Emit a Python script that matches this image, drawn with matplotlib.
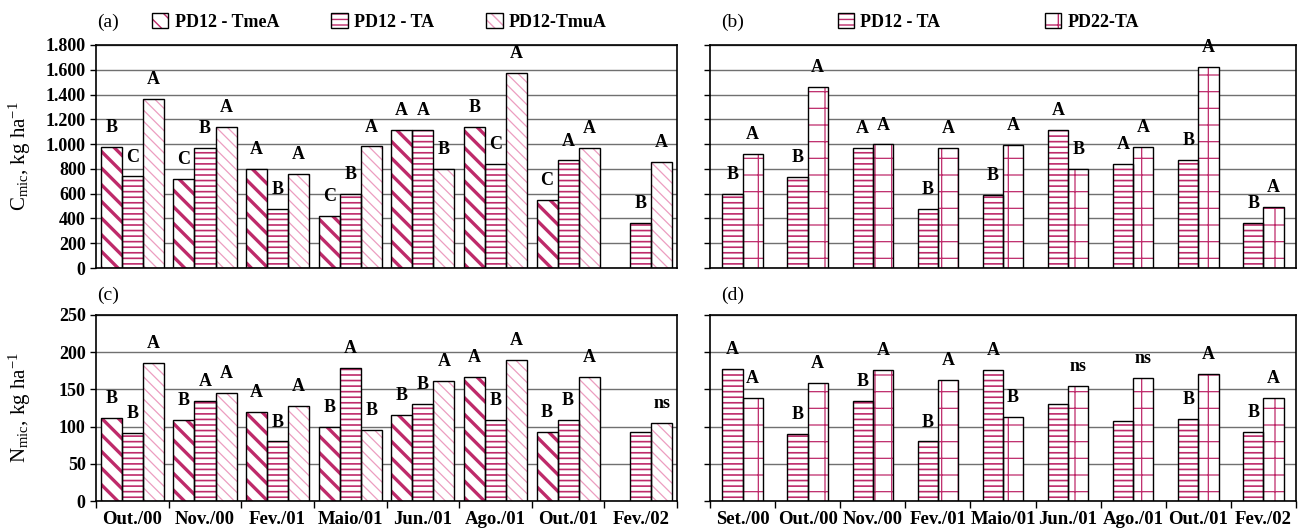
import numpy as np
import matplotlib
matplotlib.use("Agg")
import matplotlib.pyplot as plt
import matplotlib.patches as mpatches
from matplotlib.ticker import FuncFormatter, FixedLocator

plt.rcParams['font.family'] = 'Liberation Serif'
plt.rcParams['mathtext.fontset'] = 'custom'
plt.rcParams['mathtext.rm'] = 'Liberation Serif'
plt.rcParams['mathtext.it'] = 'Liberation Serif:italic'

# ---- data ----
dates_ac = ['Out./00', 'Nov./00', 'Fev./01', 'Maio/01', 'Jun./01', 'Ago./01', 'Out./01', 'Fev./02']
dates_bd = ['Set./00', 'Out./00', 'Nov./00', 'Fev./01', 'Maio/01', 'Jun./01', 'Ago./01', 'Out./01', 'Fev./02']

# (a) C mic, kg/ha
cmic_tmea = [980, 717, 797, 423, 1115, 1136, 551, np.nan]
cmic_ta = [739, 967, 476, 595, 1115, 837, 868, 367]
cmic_tmua = [1368, 1136, 757, 981, 797, 1572, 967, 853]
let_cmic_tmea = ['B', 'C', 'A', 'C', 'A', 'B', 'C', '']
let_cmic_ta = ['C', 'B', 'B', 'B', 'A', 'C', 'A', 'B']
let_cmic_tmua = ['A', 'A', 'A', 'A', 'B', 'A', 'A', 'A']

# (b) C mic, PD12-TA vs PD22-TA
cmic_pd12 = [597, 737, 970, 474, 589, 1117, 836, 871, 367]
cmic_pd22 = [919, 1460, 997, 970, 991, 798, 978, 1626, 490]
let_cmic_pd12 = ['B', 'B', 'A', 'B', 'B', 'A', 'A', 'B', 'B']
let_cmic_pd22 = ['A', 'A', 'A', 'A', 'A', 'B', 'A', 'A', 'A']

# (c) N mic, kg/ha
nmic_tmea = [111, 109, 120, 100, 116, 167, 93, np.nan]
nmic_ta = [91, 134, 80, 179, 131, 109, 109, 93]
nmic_tmua = [185, 145, 128, 95, 161, 190, 167, 105]
let_nmic_tmea = ['B', 'B', 'A', 'B', 'B', 'A', 'B', '']
let_nmic_ta = ['B', 'A', 'B', 'A', 'B', 'B', 'B', '']
let_nmic_tmua = ['A', 'A', 'A', 'B', 'A', 'A', 'A', 'ns']

# (d) N mic, PD12-TA vs PD22-TA
nmic_pd12 = [178, 90, 134, 80, 176, 130, 108, 110, 93]
nmic_pd22 = [139, 159, 176, 163, 113, 154, 165, 171, 138]
let_nmic_pd12 = ['A', 'B', 'B', 'B', 'A', '', '', 'B', 'B']
let_nmic_pd22 = ['A', 'A', 'A', 'A', 'B', 'ns', 'ns', 'A', 'A']

MAG = '#BE2A6A'
PINK = '#EC9DC0'
# series style: (hatch, hatch colour, hatch linewidth)
STY_TMEA = ('\\\\', MAG, 2.4)
STY_TA = ('---', MAG, 1.2)
STY_TMUA = ('\\\\\\', PINK, 0.9)
STY_PD22 = ('+', MAG, 0.9)


def hatched_bars(ax, x, h, w, sty, letters):
    hatch, hc, hlw = sty
    with plt.rc_context({'hatch.linewidth': hlw}):
        ax.bar(x, h, w, color='white', edgecolor=hc, hatch=hatch, linewidth=0, zorder=2)
    ax.bar(x, h, w, fill=False, edgecolor='black', linewidth=1, zorder=3)
    for xi, hi, lt in zip(x, h, letters):
        if lt and not np.isnan(hi):
            ax.annotate(lt, (xi, hi), xytext=(0, 14), textcoords='offset points',
                        ha='center', va='center', fontsize=13, fontweight='bold', zorder=4)


def legend_handle(sty):
    hatch, hc, hlw = sty
    with plt.rc_context({'hatch.linewidth': hlw}):
        p1 = mpatches.Patch(facecolor='white', edgecolor=hc, hatch=hatch, linewidth=0)
    p2 = mpatches.Patch(facecolor='none', edgecolor='black', linewidth=1)
    return (p1, p2)


def style_axis(ax, ncat, ymax, ystep, yfmt, showy, cats=None):
    ax.set_xlim(-0.5, ncat - 0.5)
    ax.set_ylim(0, ymax)
    ax.set_yticks(np.arange(0, ymax + 1, ystep))
    ax.yaxis.set_major_formatter(FuncFormatter(yfmt))
    ax.grid(axis='y', color='#707070', linewidth=1)
    ax.set_axisbelow(True)
    for s in ax.spines.values():
        s.set_linewidth(1.2)
    ax.tick_params(axis='y', direction='out', length=4, width=1, labelsize=13,
                   labelleft=showy)
    for lab in ax.get_yticklabels():
        lab.set_fontweight('bold')
    if cats is None:
        ax.tick_params(axis='x', length=0, labelbottom=False)
    else:
        ax.xaxis.set_major_locator(FixedLocator(np.arange(ncat + 1) - 0.5))
        ax.xaxis.set_minor_locator(FixedLocator(np.arange(ncat)))
        ax.tick_params(axis='x', which='major', direction='out', length=5, width=1,
                       labelbottom=False)
        ax.tick_params(axis='x', which='minor', length=0, pad=7)
        ax.set_xticklabels(cats, minor=True, fontsize=13.5, fontweight='bold')


fmt_c = lambda v, p: f'{int(v):,}'.replace(',', '.')
fmt_n = lambda v, p: f'{int(v)}'

fig = plt.figure(figsize=(13.07, 5.30), dpi=100)
ax_a = fig.add_axes([0.0735, 0.4943, 0.4445, 0.4208])
ax_b = fig.add_axes([0.5432, 0.4943, 0.4484, 0.4208])
ax_c = fig.add_axes([0.0735, 0.0547, 0.4445, 0.3510])
ax_d = fig.add_axes([0.5432, 0.0547, 0.4484, 0.3510])

w3 = 0.29
xa = np.arange(len(dates_ac))
hatched_bars(ax_a, xa - w3, cmic_tmea, w3, STY_TMEA, let_cmic_tmea)
hatched_bars(ax_a, xa, cmic_ta, w3, STY_TA, let_cmic_ta)
hatched_bars(ax_a, xa + w3, cmic_tmua, w3, STY_TMUA, let_cmic_tmua)
style_axis(ax_a, len(dates_ac), 1800, 200, fmt_c, True)

hatched_bars(ax_c, xa - w3, nmic_tmea, w3, STY_TMEA, let_nmic_tmea)
hatched_bars(ax_c, xa, nmic_ta, w3, STY_TA, let_nmic_ta)
hatched_bars(ax_c, xa + w3, nmic_tmua, w3, STY_TMUA, let_nmic_tmua)
style_axis(ax_c, len(dates_ac), 250, 50, fmt_n, True, dates_ac)

w2 = 0.31
xb = np.arange(len(dates_bd))
hatched_bars(ax_b, xb - w2 / 2, cmic_pd12, w2, STY_TA, let_cmic_pd12)
hatched_bars(ax_b, xb + w2 / 2, cmic_pd22, w2, STY_PD22, let_cmic_pd22)
style_axis(ax_b, len(dates_bd), 1800, 200, fmt_c, False)

hatched_bars(ax_d, xb - w2 / 2, nmic_pd12, w2, STY_TA, let_nmic_pd12)
hatched_bars(ax_d, xb + w2 / 2, nmic_pd22, w2, STY_PD22, let_nmic_pd22)
style_axis(ax_d, len(dates_bd), 250, 50, fmt_n, False, dates_bd)

ax_a.set_ylabel(r'C$_{\mathrm{mic}}$, kg ha$^{-1}$', fontsize=15)
ax_c.set_ylabel(r'N$_{\mathrm{mic}}$, kg ha$^{-1}$', fontsize=15)
ax_a.yaxis.set_label_coords(-0.108, 0.5)
ax_c.yaxis.set_label_coords(-0.108, 0.5)

# panel tags
for xf, yf, tag in [(0.0742, 0.958, '(a)'), (0.5515, 0.958, '(b)'),
                    (0.0742, 0.443, '(c)'), (0.5515, 0.443, '(d)')]:
    fig.text(xf, yf, tag, fontsize=14, va='center')

# legends
leg_kw = dict(frameon=False, loc='center left', borderpad=0, borderaxespad=0,
              handlelength=0.9, handleheight=0.9, handletextpad=0.35,
              prop={'weight': 'bold', 'size': 13})
fig.legend([legend_handle(STY_TMEA), legend_handle(STY_TA), legend_handle(STY_TMUA)],
           ['PD12 - TmeA', 'PD12 - TA', 'PD12-TmuA'], ncol=3, columnspacing=2.9,
           bbox_to_anchor=(0.1163, 0.958), **leg_kw)
fig.legend([legend_handle(STY_TA), legend_handle(STY_PD22)],
           ['PD12 - TA', 'PD22-TA'], ncol=2, columnspacing=5.8,
           bbox_to_anchor=(0.641, 0.958), **leg_kw)

fig.savefig('out.png', dpi=100)
